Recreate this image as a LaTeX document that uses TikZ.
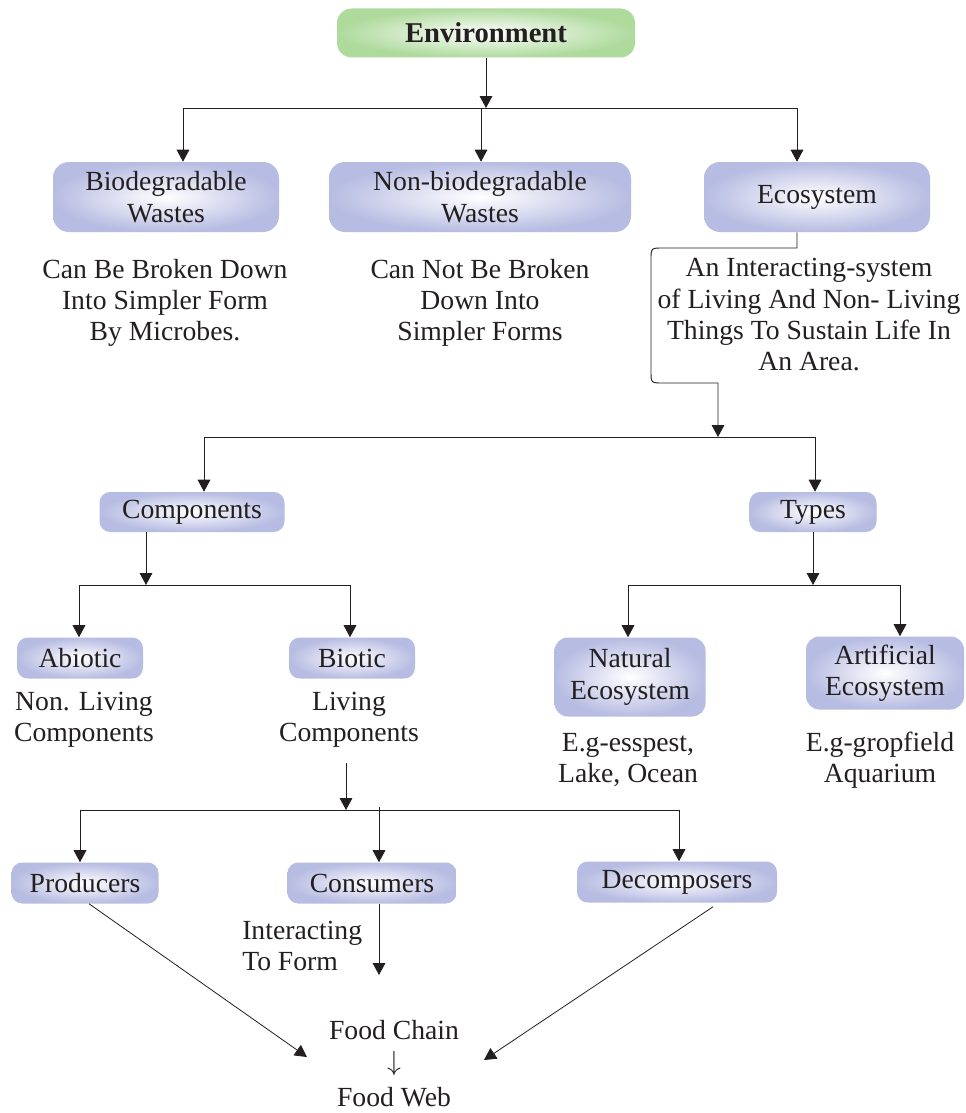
\documentclass[tikz,border=0pt]{standalone}
\usepackage{fontspec}
\setmainfont{Liberation Serif}
\usetikzlibrary{arrows.meta}
\definecolor{lav}{HTML}{B7BCE2}
\definecolor{grn}{HTML}{AEDA9C}
\definecolor{ink}{HTML}{231F20}
\begin{document}
\begin{tikzpicture}[x=0.75pt,y=-0.75pt,
  every node/.style={text=ink},
  box/.style={rounded corners=8pt, inner color=white, outer color=lav, align=center,
    font=\fontsize{20.75}{23.5}\selectfont, inner sep=0pt},
  txt/.style={align=center, font=\fontsize{20.75}{23.5}\selectfont, inner sep=0pt},
  arr/.style={-{Triangle[length=9pt,width=9.5pt]}, line width=0.7pt, draw=ink},
  ln/.style={line width=0.7pt, draw=ink}]
\useasboundingbox (0,0) rectangle (966,1113);

% ---- boxes ----
\node[box, rounded corners=11pt, outer color=grn, minimum width=223.5pt, minimum height=36.75pt,
  font=\bfseries\fontsize{21.5}{24}\selectfont] (env) at (486,33) {Environment};
\node[box, rounded corners=12pt, minimum width=169.5pt, minimum height=52.5pt] (bio) at (166,197) {Biodegradable\\Wastes};
\node[box, rounded corners=12pt, minimum width=226.5pt, minimum height=52.5pt] (nonbio) at (480,197) {Non-biodegradable\\Wastes};
\node[box, rounded corners=12pt, minimum width=169.5pt, minimum height=52.5pt] (eco) at (817,197) {Ecosystem};
\node[box, minimum width=138.75pt, minimum height=30pt] (comp) at (192,512) {Components};
\node[box, minimum width=95.25pt, minimum height=30pt] (types) at (813,512) {Types};
\node[box, minimum width=94.5pt, minimum height=30.75pt] (abio) at (80,658) {Abiotic};
\node[box, minimum width=94.5pt, minimum height=30.75pt] (biot) at (352,658) {Biotic};
\node[box, rounded corners=10pt, minimum width=113.25pt, minimum height=59.25pt] (nat) at (630,677) {Natural\\Ecosystem};
\node[box, rounded corners=10pt, minimum width=118.5pt, minimum height=54.75pt] (art) at (885,673) {Artificial\\Ecosystem};
\node[box, minimum width=110.25pt, minimum height=30.75pt] (prod) at (85,883) {Producers};
\node[box, minimum width=126.75pt, minimum height=30.75pt] (cons) at (372,883) {Consumers};
\node[box, minimum width=150pt, minimum height=30.75pt] (deco) at (677,882) {Decomposers};

% ---- texts ----
\node[txt] (biotxt) at (165,303) {Can Be Broken Down\\Into Simpler Form\\By Microbes.};
\node[txt] (nonbiotxt) at (480,303) {Can Not Be Broken\\Down Into\\Simpler Forms};
\node[txt] (ecotxt) at (809,315) {An Interacting-system\\of Living And Non- Living\\Things To Sustain Life In\\An Area.};
\node[txt] (abtxt) at (84,720) {Non. Living\\Components};
\node[txt] (bitxt) at (349,720) {Living\\Components};
\node[txt] (nattxt) at (628,760) {E.g-esspest,\\Lake, Ocean};
\node[txt] (arttxt) at (880,760) {E.g-gropfield\\Aquarium};
\node[txt, anchor=west, align=left] (inttxt) at (242,946) {Interacting\\To Form};
\node[txt] (fc) at (394,1030) {Food Chain};
\node[txt] (dn) at (394,1064) {$\downarrow$};
\node[txt] (fw) at (394,1097) {Food Web};

% ---- level 1 ----
\coordinate (j1) at (486,108);
\coordinate (j1a) at (183,108);
\coordinate (j1b) at (481,108);
\coordinate (j1c) at (797,108);
\draw[arr] (env) -- (j1);
\draw[ln] (j1a) -- (j1c);
\draw[arr] (j1a) -- (j1a |- bio.north);
\draw[arr] (j1b) -- (j1b |- nonbio.north);
\draw[arr] (j1c) -- (j1c |- eco.north);

% ---- ecosystem connector ----
\coordinate (e0) at (797,248);
\coordinate (j2) at (718,437);
\draw[arr] (e0 |- eco.south) -- (e0) -- (663,248) .. controls (651,248) .. (651,260)
  -- (651,371) .. controls (651,383) .. (663,383) -- (718,383) -- (j2);
\coordinate (j2a) at (204,437);
\coordinate (j2b) at (815,437);
\draw[ln] (j2a) -- (j2b);
\draw[arr] (j2a) -- (j2a |- comp.north);
\draw[arr] (j2b) -- (j2b |- types.north);

% ---- components ----
\coordinate (j3) at (146,585);
\coordinate (j3a) at (79,585);
\coordinate (j3b) at (350,585);
\draw[arr] (j3 |- comp.south) -- (j3);
\draw[ln] (j3a) -- (j3b);
\draw[arr] (j3a) -- (j3a |- abio.north);
\draw[arr] (j3b) -- (j3b |- biot.north);

% ---- types ----
\coordinate (j4) at (813,585);
\coordinate (j4a) at (628,585);
\coordinate (j4b) at (900,585);
\draw[arr] (types) -- (j4);
\draw[ln] (j4a) -- (j4b);
\draw[arr] (j4a) -- (j4a |- nat.north);
\draw[arr] (j4b) -- (j4b |- art.north);

% ---- biotic ----
\coordinate (s5) at (346,763);
\coordinate (j5) at (346,810);
\coordinate (j5a) at (80,810);
\coordinate (j5b) at (379,807);
\coordinate (j5c) at (679,810);
\draw[arr] (s5) -- (j5);
\draw[ln] (j5a) -- (j5c);
\draw[arr] (j5a) -- (j5a |- prod.north);
\draw[arr] (j5b) -- (j5b |- cons.north);
\draw[arr] (j5c) -- (j5c |- deco.north);

% ---- to food chain ----
\coordinate (j6) at (379,975);
\coordinate (p1) at (307,1057);
\coordinate (p2) at (484,1060);
\draw[arr] (j6 |- cons.south) -- (j6);
\draw[arr, line width=0.6pt] ([xshift=3pt]prod.south) -- (p1);
\draw[arr, line width=0.6pt] ([xshift=27pt,yshift=-3pt]deco.south) -- (p2);
\end{tikzpicture}
\end{document}
